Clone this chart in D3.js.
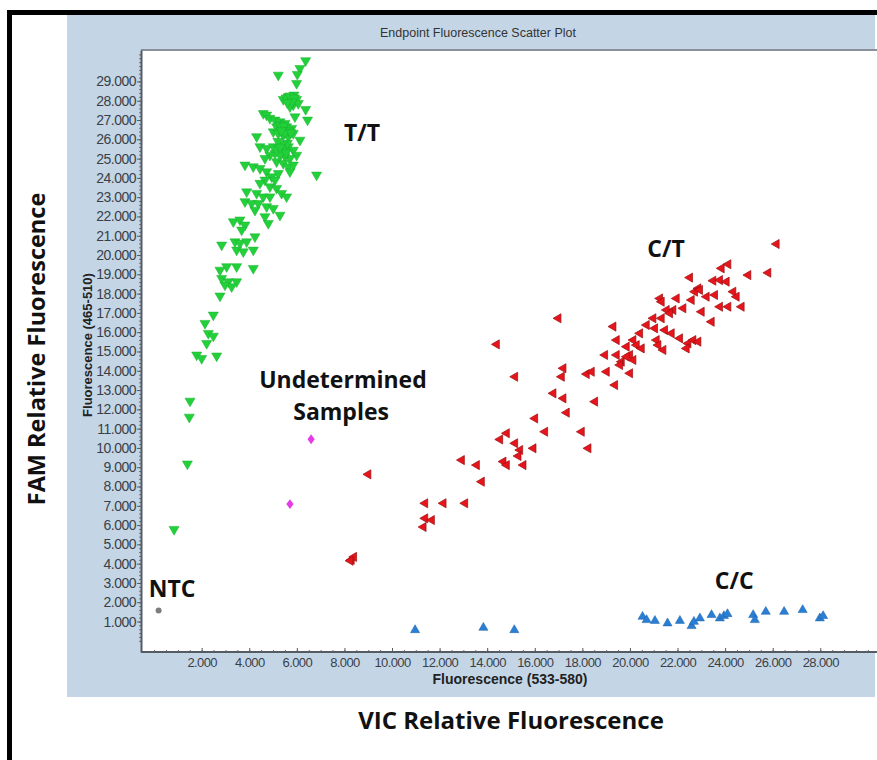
<!DOCTYPE html>
<html>
<head>
<meta charset="utf-8">
<script src="https://cdn.jsdelivr.net/npm/d3@7"></script>
<style>
  body { margin: 0; background: #fff; }
  svg { display: block; }
</style>
</head>
<body>
<div id="container"></div>
<script>
// T/T cluster (inverted green triangles)  [VIC, FAM]
const ttPoints = [
  [6370, 30080], [6130, 29680], [6020, 29370], [5990, 28900], [5220, 29330], [5880, 28300],
  [5640, 28210], [5430, 28070], [5780, 28040], [5990, 28070], [5850, 27780], [6060, 27860],
  [5710, 27690], [6370, 27550], [6450, 27000], [5920, 27170], [4590, 27340], [4730, 27260],
  [4870, 27090], [5080, 27000], [5290, 26910], [5500, 26830], [5150, 26650], [5360, 26570],
  [5570, 26650], [5780, 26570], [5010, 26390], [5220, 26310], [5430, 26220], [5640, 26140],
  [5850, 26310], [6130, 25960], [4310, 26140], [4450, 25620], [4730, 25530], [5010, 25620],
  [5220, 25530], [5430, 25440], [5640, 25620], [5850, 25440], [5990, 25180], [5710, 25010],
  [5500, 25100], [5290, 25180], [5080, 25270], [4870, 25180], [4660, 25010], [5150, 24840],
  [5430, 24750], [5640, 24580], [5850, 24670], [5710, 24320], [6830, 24150], [3820, 24670],
  [4170, 24580], [4450, 24490], [4730, 24320], [4940, 24060], [5220, 24230], [5080, 23890],
  [4660, 23890], [4450, 23720], [4870, 23540], [5150, 23460], [5360, 23200], [5570, 23020],
  [3890, 23280], [4310, 23200], [4590, 23020], [4870, 23020], [3820, 22770], [4100, 22680],
  [4380, 22680], [4240, 22330], [4730, 22510], [5010, 22420], [5290, 22070], [4660, 21990],
  [4800, 21640], [3330, 21730], [3610, 21820], [3820, 21560], [3680, 21300], [4240, 20950],
  [2840, 20520], [3400, 20690], [3610, 20610], [3890, 20690], [3470, 20260], [3750, 20170],
  [4170, 20260], [2770, 19220], [3050, 19400], [3470, 19400], [4170, 19310], [2840, 18790],
  [3120, 18620], [3260, 18360], [2980, 18450], [3470, 18620], [2770, 17880], [2490, 16890],
  [2140, 16460], [2280, 15940], [2490, 15800], [2210, 15420], [1790, 14820], [2000, 14640],
  [2630, 14770], [1510, 12430], [1480, 11600], [1400, 9170], [840, 5780],
  [5550, 28150], [5700, 28250], [5900, 28150], [5800, 27950], [5600, 27900], [5300, 26750],
  [5450, 26700], [5650, 26450], [5500, 26350], [5350, 26450], [5750, 26350], [5600, 25800],
  [5400, 25750], [5200, 25900], [5550, 25300], [5300, 25600]
];

// C/T cluster (left-pointing red triangles)
const ctPoints = [
  [26160, 20570], [24130, 19520], [23850, 19310], [24970, 18960], [25810, 19080], [22520, 18830],
  [23500, 18670], [23780, 18700], [24060, 18620], [22870, 18270], [22730, 18100], [22940, 18190],
  [24340, 18100], [24480, 17840], [23570, 17930], [23220, 17840], [22590, 17670], [21960, 17750],
  [22240, 17240], [21820, 17150], [21540, 17150], [21260, 17750], [21330, 17580], [21330, 16720],
  [20980, 16720], [21680, 16980], [23010, 17060], [23430, 16540], [23780, 17320], [24130, 17320],
  [24690, 17320], [19300, 16290], [20700, 16370], [21050, 16200], [21470, 16110], [21750, 15940],
  [20420, 15940], [20140, 15590], [19440, 15590], [19860, 15250], [20280, 15330], [20490, 15160],
  [21120, 15590], [21190, 15330], [21400, 15080], [22100, 15680], [22450, 15420], [22380, 15160],
  [22660, 15590], [22870, 15510], [18950, 14820], [19440, 14820], [19650, 14470], [20000, 14820],
  [20140, 14560], [19580, 14300], [19860, 14730], [16990, 16720], [14400, 15370], [17200, 14130],
  [17130, 13690], [18180, 13830], [18390, 13950], [19020, 13950], [20000, 13870], [19370, 13260],
  [15170, 13690], [16780, 12830], [17200, 12570], [18530, 12400], [17340, 11830], [16010, 11530],
  [16430, 10840], [17970, 10840], [14820, 10760], [14540, 10440], [15170, 10240], [15380, 9890],
  [15940, 9980], [18250, 9980], [15310, 9580], [12930, 9370], [13560, 9110], [14680, 9290],
  [14820, 9110], [15520, 9110], [13770, 8250], [11390, 7130], [12160, 7130], [13070, 7130],
  [11390, 6350], [11670, 6260], [11320, 5900], [9000, 8630], [8300, 4200], [8400, 4350],
  [8250, 4150]
];

// C/C cluster (blue triangles)
const ccPoints = [
  [10970, 560], [13840, 680], [15140, 560], [20530, 1250], [20700, 1080], [21050, 1040],
  [21580, 910], [22100, 1040], [22590, 770], [22690, 990], [22940, 1170], [23430, 1340],
  [23780, 1170], [23950, 1290], [24100, 1390], [25180, 1340], [25250, 1080], [25710, 1510],
  [26480, 1510], [27260, 1600], [27980, 1170], [28120, 1290]
];

const ntcPoints = [[190, 1570]];
const undPoints = [[6600, 10450], [5710, 7090]];

const yTicks = d3.range(1000, 30000, 1000);
const xTicks = d3.range(2000, 30000, 2000);

// cluster labels, placed in data units
const labels = [
  {text: 'T/T', x: 8740, y: 25910},
  {text: 'C/T', x: 21520, y: 19900},
  {text: 'Undetermined', x: 7940, y: 13110},
  {text: 'Samples', x: 7860, y: 11450},
  {text: 'NTC', x: 760, y: 2270},
  {text: 'C/C', x: 24380, y: 2690}
];

const width = 877;
const height = 760;
const svg = d3.select('#container').append('svg')
  .attr('width', width)
  .attr('height', height);

// outer black frame
svg.append('rect')
  .attr('x', 9.5).attr('y', 12.5)
  .attr('width', 900).attr('height', 800)
  .attr('fill', '#fff')
  .attr('stroke', '#000')
  .attr('stroke-width', 5);

// blue chart panel
svg.append('rect')
  .attr('x', 67).attr('y', 15)
  .attr('width', 808).attr('height', 682)
  .attr('fill', '#c4d6e6');

const plotLeft = 141, plotRight = 875, plotTop = 50, plotBottom = 652;

svg.append('rect')
  .attr('x', plotLeft).attr('y', plotTop)
  .attr('width', width - plotLeft).attr('height', plotBottom - plotTop)
  .attr('fill', '#fff');

svg.append('line')
  .attr('x1', plotLeft).attr('x2', width)
  .attr('y1', plotTop).attr('y2', plotTop)
  .attr('stroke', '#8a9099').attr('stroke-width', 2);

const x = d3.scaleLinear().domain([-550, 30300]).range([plotLeft, plotRight]);
const y = d3.scaleLinear().domain([-580, 30630]).range([plotBottom, plotTop]);

const fmt = d => d3.format(',')(d).replace(',', '.');

// minor ticks
svg.append('g')
  .attr('transform', `translate(${plotLeft},0)`)
  .call(d3.axisLeft(y).tickValues(d3.range(0, 30600, 200)).tickSize(2).tickFormat(''))
  .call(g => g.select('.domain').remove())
  .selectAll('line').attr('stroke', '#6b7078');

svg.append('g')
  .attr('transform', `translate(0,${plotBottom})`)
  .call(d3.axisBottom(x).tickValues(d3.range(0, 30300, 500)).tickSize(-2).tickFormat(''))
  .call(g => g.select('.domain').remove())
  .selectAll('line').attr('stroke', '#6b7078');

const yAxis = svg.append('g')
  .attr('transform', `translate(${plotLeft},0)`)
  .call(d3.axisLeft(y).tickValues(yTicks).tickSize(4).tickPadding(1).tickFormat(fmt).tickSizeOuter(0));

const xAxis = svg.append('g')
  .attr('transform', `translate(0,${plotBottom})`)
  .call(d3.axisBottom(x).tickValues(xTicks).tickSize(-4).tickPadding(6).tickFormat(fmt).tickSizeOuter(0));

[yAxis, xAxis].forEach(g => {
  g.select('.domain').attr('stroke', '#555b63').attr('stroke-width', 2);
  g.selectAll('line').attr('stroke', '#555b63');
  g.selectAll('text')
    .attr('fill', '#3a3f47')
    .style('font-family', 'Liberation Sans, Arial, sans-serif')
    .style('font-size', '13px')
    .style('letter-spacing', '-0.6px');
});
yAxis.selectAll('text').style('font-size', '14px').style('letter-spacing', '-0.5px');
xAxis.select('.domain').attr('d', `M${plotLeft},0H${width}`);

// titles inside the panel
svg.append('text')
  .attr('x', 478).attr('y', 37)
  .attr('text-anchor', 'middle')
  .style('font-family', 'Liberation Sans, Arial, sans-serif')
  .style('font-size', '12.5px')
  .attr('fill', '#333')
  .text('Endpoint Fluorescence Scatter Plot');

svg.append('text')
  .attr('transform', 'translate(92,345) rotate(-90)')
  .attr('text-anchor', 'middle')
  .style('font-family', 'Liberation Sans, Arial, sans-serif')
  .style('font-size', '13px')
  .style('font-weight', 'bold')
  .attr('fill', '#222')
  .text('Fluorescence (465-510)');

svg.append('text')
  .attr('x', 510).attr('y', 684)
  .attr('text-anchor', 'middle')
  .style('font-family', 'Liberation Sans, Arial, sans-serif')
  .style('font-size', '14px')
  .style('font-weight', 'bold')
  .attr('fill', '#222')
  .text('Fluorescence (533-580)');

// outer axis titles
svg.append('text')
  .attr('transform', 'translate(45,349) rotate(-90)')
  .attr('text-anchor', 'middle')
  .style('font-family', 'Open Sans, sans-serif')
  .style('font-size', '23.5px')
  .style('font-weight', 'bold')
  .attr('fill', '#111')
  .text('FAM Relative Fluorescence');

svg.append('text')
  .attr('x', 511).attr('y', 729)
  .attr('text-anchor', 'middle')
  .style('font-family', 'Open Sans, sans-serif')
  .style('font-size', '24px')
  .style('font-weight', 'bold')
  .attr('fill', '#111')
  .text('VIC Relative Fluorescence');

// markers
const tri = d3.symbol().type(d3.symbolTriangle);

svg.append('g').selectAll('path')
  .data(ttPoints)
  .join('path')
  .attr('d', tri.size(44)())
  .attr('transform', d => `translate(${x(d[0])},${y(d[1])}) rotate(180)`)
  .attr('fill', '#22d13a')
  .attr('stroke', '#19b02e')
  .attr('stroke-width', 0.5);

svg.append('g').selectAll('path')
  .data(ctPoints)
  .join('path')
  .attr('d', tri.size(36)())
  .attr('transform', d => `translate(${x(d[0])},${y(d[1])}) rotate(-90)`)
  .attr('fill', '#e8141c')
  .attr('stroke', '#9a1010')
  .attr('stroke-width', 0.7);

svg.append('g').selectAll('path')
  .data(ccPoints)
  .join('path')
  .attr('d', tri.size(36)())
  .attr('transform', d => `translate(${x(d[0])},${y(d[1])})`)
  .attr('fill', '#2a7fd4')
  .attr('stroke', '#1a5fa8')
  .attr('stroke-width', 0.5);

svg.append('g').selectAll('circle')
  .data(ntcPoints)
  .join('circle')
  .attr('cx', d => x(d[0]))
  .attr('cy', d => y(d[1]))
  .attr('r', 3)
  .attr('fill', '#7d7d7d');

svg.append('g').selectAll('path')
  .data(undPoints)
  .join('path')
  .attr('d', d3.symbol().type(d3.symbolDiamond).size(34)())
  .attr('transform', d => `translate(${x(d[0])},${y(d[1])}) scale(1.15,0.9)`)
  .attr('fill', '#e63be6');

// cluster labels
svg.append('g').selectAll('text')
  .data(labels)
  .join('text')
  .attr('x', d => x(d.x))
  .attr('y', d => y(d.y))
  .attr('text-anchor', 'middle')
  .style('font-family', 'Open Sans, sans-serif')
  .style('font-size', '23px')
  .style('font-weight', 'bold')
  .attr('fill', '#111')
  .text(d => d.text);
</script>
</body>
</html>
